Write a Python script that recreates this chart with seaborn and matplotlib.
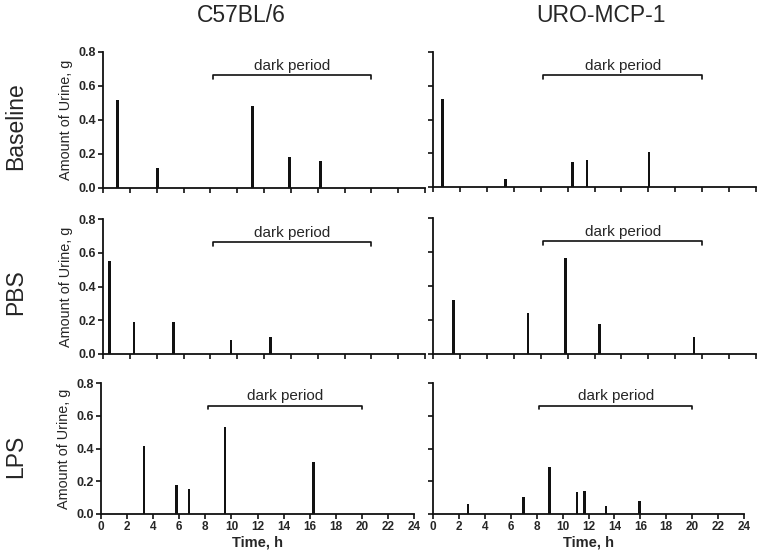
import matplotlib
matplotlib.use("Agg")
import matplotlib.pyplot as plt
import pandas as pd
import seaborn as sns

sns.set_style("ticks")
plt.rcParams['font.family'] = ['Liberation Sans', 'DejaVu Sans']

# data (time in h, urine in g)
strains = ["C57BL/6", "URO-MCP-1"]
treatments = ["Baseline", "PBS", "LPS"]

base_c57_t = [1.1, 4.05, 11.15, 13.9, 16.2]
base_c57_v = [0.52, 0.115, 0.48, 0.18, 0.16]
base_uro_t = [0.7, 5.4, 10.35, 11.45, 16.05]
base_uro_v = [0.52, 0.05, 0.15, 0.162, 0.21]
pbs_c57_t = [0.5, 2.3, 5.25, 9.55, 12.5]
pbs_c57_v = [0.55, 0.19, 0.188, 0.085, 0.10]
pbs_uro_t = [1.5, 7.05, 9.85, 12.35, 19.4]
pbs_uro_v = [0.32, 0.24, 0.565, 0.175, 0.10]
lps_c57_t = [3.3, 5.8, 6.75, 9.5, 16.3]
lps_c57_v = [0.415, 0.175, 0.155, 0.53, 0.32]
lps_uro_t = [2.7, 7.0, 9.0, 11.1, 11.7, 13.35, 15.95]
lps_uro_v = [0.06, 0.105, 0.285, 0.135, 0.14, 0.05, 0.078]

dark_start = 8.2
dark_end = 20.0
x_ticks = list(range(0, 25, 2))
y_ticks = [0.0, 0.2, 0.4, 0.6, 0.8]

series = {
    ("Baseline", "C57BL/6"): (base_c57_t, base_c57_v),
    ("Baseline", "URO-MCP-1"): (base_uro_t, base_uro_v),
    ("PBS", "C57BL/6"): (pbs_c57_t, pbs_c57_v),
    ("PBS", "URO-MCP-1"): (pbs_uro_t, pbs_uro_v),
    ("LPS", "C57BL/6"): (lps_c57_t, lps_c57_v),
    ("LPS", "URO-MCP-1"): (lps_uro_t, lps_uro_v),
}

W, H = 760, 556
fig = plt.figure(figsize=(7.6, 5.56), dpi=100)

# axes boxes in pixels: (x0, y0_top, x1, y1_bottom)
boxes = {
    ("Baseline", "C57BL/6"): (103, 52, 425, 188),
    ("Baseline", "URO-MCP-1"): (433, 52, 756, 187),
    ("PBS", "C57BL/6"): (103, 219, 425, 354),
    ("PBS", "URO-MCP-1"): (433, 218, 756, 354),
    ("LPS", "C57BL/6"): (101, 383, 414, 514),
    ("LPS", "URO-MCP-1"): (433, 383, 744, 514),
}

for (trt, strain), (t, v) in series.items():
    x0, y0, x1, y1 = boxes[(trt, strain)]
    ax = fig.add_axes([x0 / W, 1 - y1 / H, (x1 - x0) / W, (y1 - y0) / H])
    df = pd.DataFrame({"Time, h": t, "Amount": v})
    sns.barplot(data=df, x="Time, h", y="Amount", native_scale=True, orient="x",
                color="black", errorbar=None, linewidth=0, ax=ax)
    # make every bar a thin stick of equal width
    for p in ax.patches:
        cx = p.get_x() + p.get_width() / 2
        p.set_width(0.2)
        p.set_x(cx - 0.1)
        p.set_facecolor("#111111")

    ax.set_xlim(0, 24)
    ax.set_ylim(0, 0.8)
    ax.set_yticks(y_ticks)
    ax.set_xticks(x_ticks)
    sns.despine(ax=ax)
    for s in ["left", "bottom"]:
        ax.spines[s].set_linewidth(1.3)
        ax.spines[s].set_color("#111111")
    ax.tick_params(axis="both", length=3.5, width=1.2, color="#111111", pad=1.5)

    if strain == "C57BL/6":
        ax.set_yticklabels([f"{y:.1f}" for y in y_ticks], fontsize=9, fontweight="bold")
        ax.set_ylabel("Amount of Urine, g", fontsize=10.4, labelpad=4)
    else:
        ax.set_yticklabels([])
        ax.set_ylabel("")

    if trt == "LPS":
        ax.set_xticklabels([str(x) for x in x_ticks], fontsize=8.5, fontweight="bold")
        ax.set_xlabel("Time, h", fontsize=10.5, fontweight="bold", labelpad=2)
    else:
        ax.set_xticklabels([])
        ax.set_xlabel("")

    # dark period bracket
    ax.plot([dark_start, dark_start, dark_end, dark_end], [0.64, 0.662, 0.662, 0.64],
            color="#111111", lw=1.2, clip_on=False)
    ax.text((dark_start + dark_end) / 2, 0.675, "dark period", ha="center", va="bottom",
            fontsize=11)

# column titles
fig.text(241 / W, 1 - 15 / H, "C57BL/6", ha="center", va="center", fontsize=16.5)
fig.text(601 / W, 1 - 15 / H, "URO-MCP-1", ha="center", va="center", fontsize=16.5)

# row titles
for trt, yc in zip(treatments, [126, 292, 456]):
    fig.text(16 / W, 1 - yc / H, trt, rotation=90, ha="center", va="center", fontsize=16.5)

plt.savefig("out.png", dpi=100)
